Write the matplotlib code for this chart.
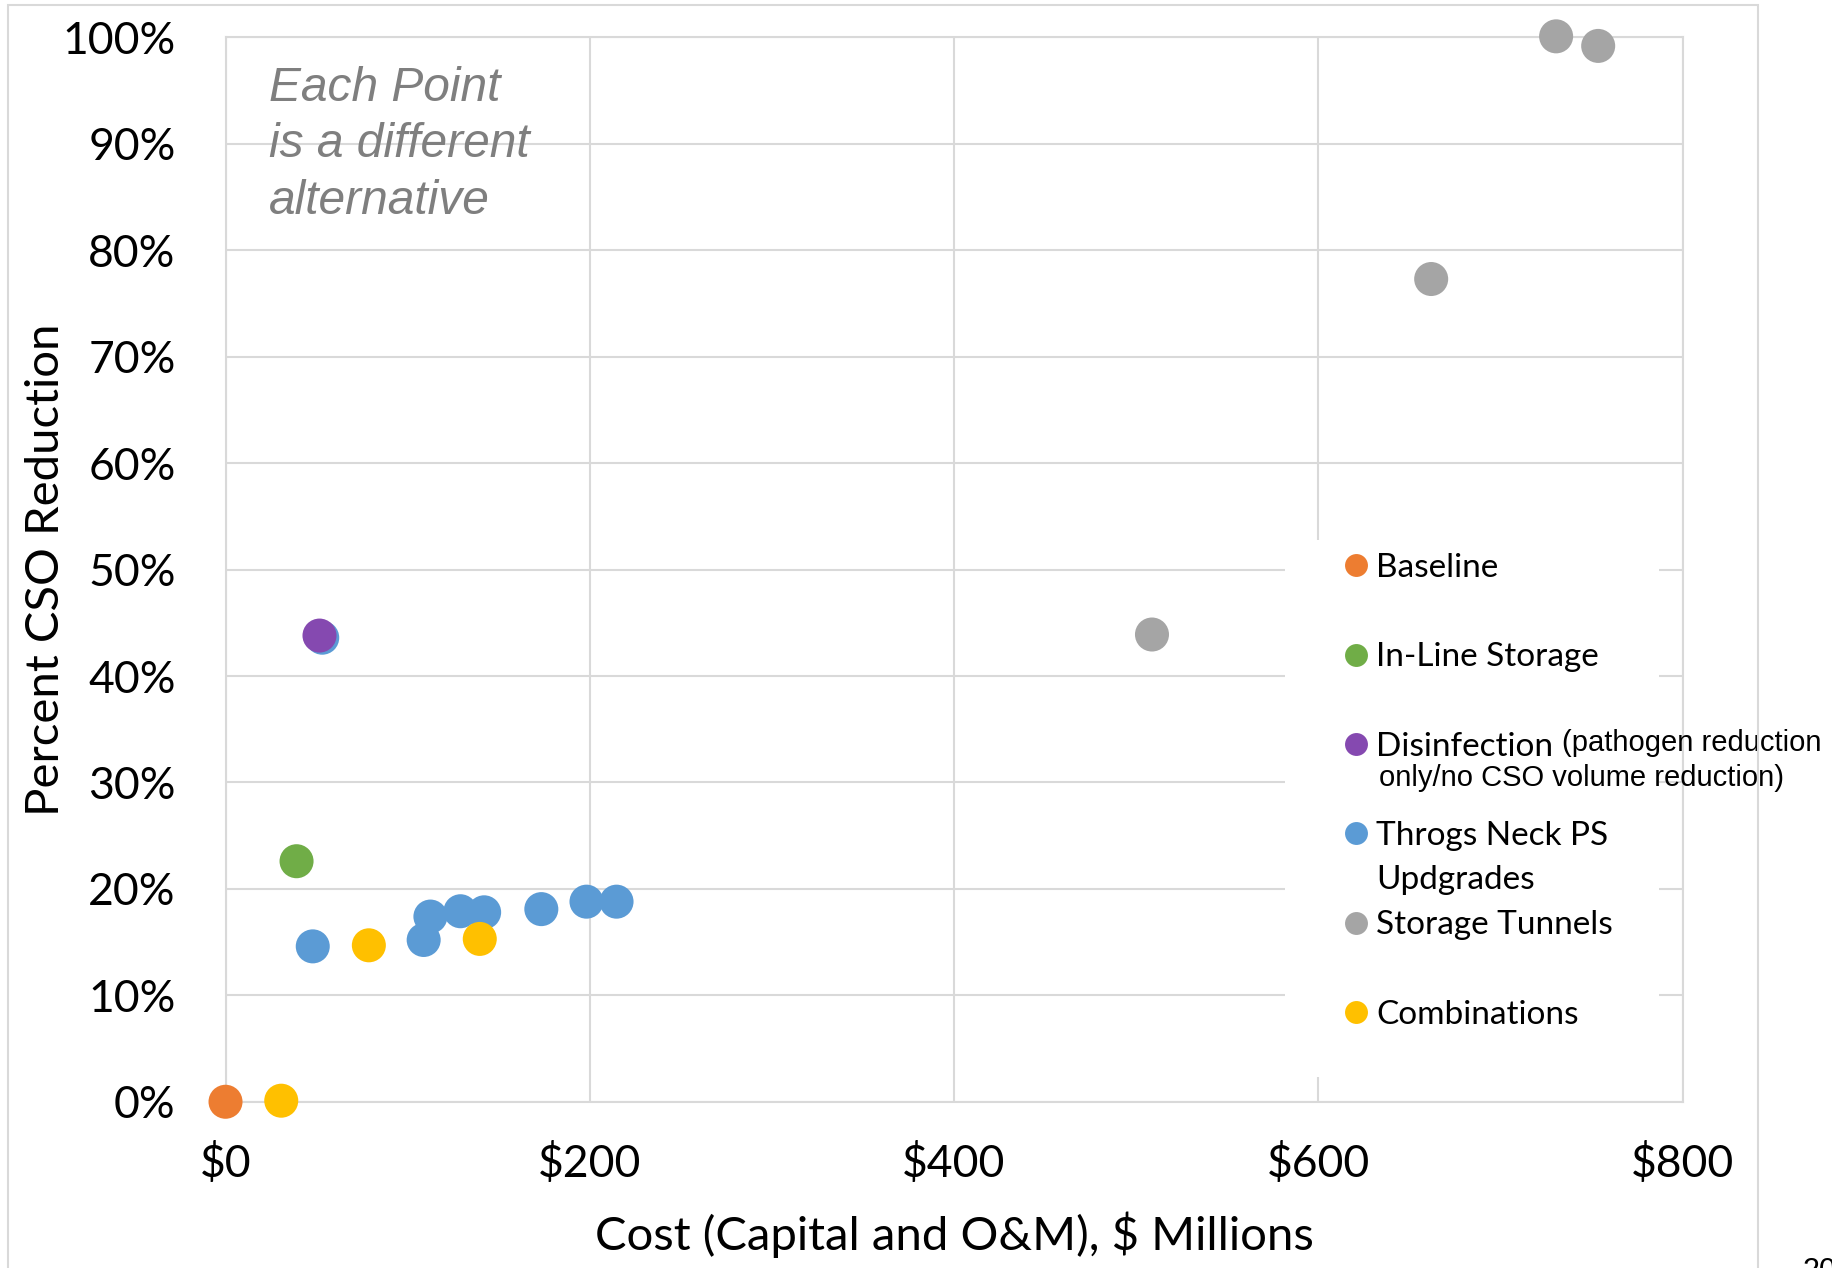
import matplotlib
matplotlib.use("Agg")
import matplotlib.pyplot as plt
from matplotlib.lines import Line2D
from matplotlib.patches import Rectangle
from matplotlib.ticker import FuncFormatter

# ==== DATA (cost in $ millions, CSO reduction in %) ====
baseline_cost = [0]
baseline_red = [0]

inline_cost = [39]
inline_red = [22.6]

disinf_cost = [51.6]
disinf_red = [43.8]

throgs_cost = [47.9, 108.8, 112.5, 129, 142, 173.4, 198.2, 214.7]
throgs_red = [14.6, 15.2, 17.4, 17.9, 17.8, 18.1, 18.8, 18.8]

tunnel_cost = [508.7, 662, 730.6, 753.7]
tunnel_red = [43.9, 77.3, 100.1, 99.2]

combo_cost = [30.6, 78.7, 139.6]
combo_red = [0.1, 14.7, 15.3]

series_names = ["Baseline", "In-Line Storage", "Disinfection", "Throgs Neck PS",
                "Storage Tunnels", "Combinations"]
series_colors = ["#ED7D31", "#70AD47", "#8549B0", "#5B9BD5", "#A5A5A5", "#FFC000"]

x_ticks = [0, 200, 400, 600, 800]
y_ticks = [0, 10, 20, 30, 40, 50, 60, 70, 80, 90, 100]
# =======================================================

MAIN_FONT = ["Lato", "DejaVu Sans"]
ARIAL = ["Liberation Sans", "DejaVu Sans"]
GRID = "#D9D9D9"

fig = plt.figure(figsize=(18.32, 12.68), dpi=100)
ax = fig.add_axes([0.1231, 0.1311, 0.7953, 0.8394])

# outer chart border (partly off the page at the bottom)
fig.patches.append(Rectangle((0.0044, -0.02), 0.9552, 1.016, transform=fig.transFigure,
                             fill=False, edgecolor=GRID, linewidth=1.5))

ms = 600
data = [
    (baseline_cost, baseline_red),
    (inline_cost, inline_red),
    (disinf_cost, disinf_red),
    (throgs_cost, throgs_red),
    (tunnel_cost, tunnel_red),
    (combo_cost, combo_red),
]

# blue point sitting just under the disinfection point
ax.scatter([c + 1.5 for c in disinf_cost], [r - 0.2 for r in disinf_red], s=ms,
           color=series_colors[3], edgecolors="none", zorder=3, clip_on=False)
for (xs, ys), col in zip(data, series_colors):
    ax.scatter(xs, ys, s=ms, color=col, edgecolors="none", zorder=4, clip_on=False)

ax.set_xlim(0, 800)
ax.set_ylim(0, 100)
ax.set_xticks(x_ticks)
ax.set_yticks(y_ticks)
ax.xaxis.set_major_formatter(FuncFormatter(lambda v, p: f"${v:.0f}"))
ax.yaxis.set_major_formatter(FuncFormatter(lambda v, p: f"{v:.0f}%"))
ax.tick_params(length=0, labelsize=32, pad=36)
ax.tick_params(axis="x", pad=30)
for lab in ax.get_xticklabels() + ax.get_yticklabels():
    lab.set_family(MAIN_FONT)

ax.grid(True, color=GRID, linewidth=1.5, zorder=0)
ax.set_axisbelow(True)
for sp in ax.spines.values():
    sp.set_color(GRID)
    sp.set_linewidth(1.5)

ax.set_xlabel("Cost (Capital and O&M), $ Millions", fontsize=34, family=MAIN_FONT)
ax.set_ylabel("Percent CSO Reduction", fontsize=34, family=MAIN_FONT)
ax.xaxis.set_label_coords(0.5, -0.1035)
ax.yaxis.set_label_coords(-0.109, 0.5)

ax.text(0.0297, 0.973, "Each Point\nis a different\nalternative", transform=ax.transAxes,
        fontsize=34.5, style="italic", color="#7F7F7F", family=ARIAL, va="top", ha="left",
        linespacing=1.32)

# white legend area hiding the grid
ax.add_patch(Rectangle((0.727, 0.023), 0.257, 0.505, transform=ax.transAxes,
                       facecolor="white", edgecolor="none", zorder=2))

handles = [Line2D([], [], linestyle="none", marker="o", markersize=16.5,
                  markerfacecolor=c, markeredgecolor="none") for c in series_colors]
leg = ax.legend(handles, series_names, loc="upper left", bbox_to_anchor=(0.768, 0.5156),
                frameon=False, borderpad=0, borderaxespad=0, handlelength=0.7,
                handletextpad=0.26, labelspacing=1.78, prop={"family": MAIN_FONT, "size": 24})
leg.set_zorder(5)
texts = leg.get_texts()

ax.annotate("Updgrades", xy=(0, 0), xycoords=texts[3], xytext=(0, -10),
            textcoords="offset points", va="top", ha="left", fontsize=24,
            family=MAIN_FONT, zorder=6, annotation_clip=False)
ax.annotate("(pathogen reduction", xy=(1, 0), xycoords=texts[2], xytext=(6, 3),
            textcoords="offset points", va="bottom", ha="left", fontsize=21,
            family=ARIAL, zorder=6, annotation_clip=False)
ax.annotate("only/no CSO volume reduction)", xy=(0, 0), xycoords=texts[2], xytext=(2, -2),
            textcoords="offset points", va="top", ha="left", fontsize=21,
            family=ARIAL, zorder=6, annotation_clip=False)

# page number, cut by the page edge
fig.text(0.984, 0.0087, "20", fontsize=22, family=ARIAL, va="top", ha="left")

fig.savefig("out.png", dpi=100)
